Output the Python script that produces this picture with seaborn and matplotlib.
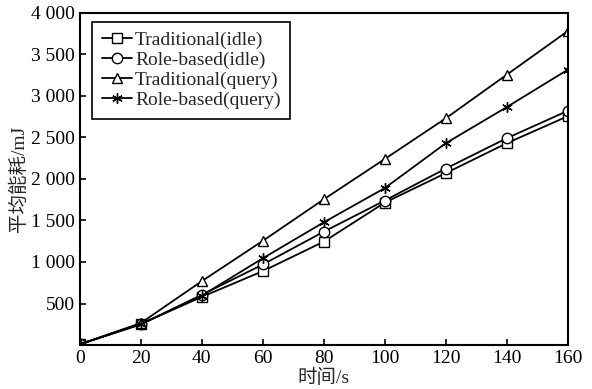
import pandas as pd
import matplotlib
matplotlib.use("Agg")
import matplotlib.pyplot as plt
import seaborn as sns

# 数据
time_s = [0, 20, 40, 60, 80, 100, 120, 140, 160]
trad_idle = [10, 255, 580, 890, 1245, 1715, 2070, 2430, 2755]
role_idle = [10, 250, 605, 970, 1365, 1740, 2125, 2490, 2820]
trad_query = [10, 265, 770, 1255, 1755, 2240, 2730, 3255, 3780]
role_query = [10, 250, 595, 1045, 1478, 1890, 2430, 2865, 3315]

series_names = ["Traditional(idle)", "Role-based(idle)",
                "Traditional(query)", "Role-based(query)"]
y_ticks = [500, 1000, 1500, 2000, 2500, 3000, 3500, 4000]
y_ticklabels = ["500", "1 000", "1 500", "2 000", "2 500", "3 000", "3 500", "4 000"]

df = pd.DataFrame({
    "时间": time_s * 4,
    "能耗": trad_idle + role_idle + trad_query + role_query,
    "series": [n for n in series_names for _ in time_s],
})

sns.set_style("ticks")
plt.rcParams["font.family"] = ["Liberation Serif", "Noto Sans CJK SC"]
plt.rcParams["axes.linewidth"] = 1.5

fig = plt.figure(figsize=(5.92, 3.89), dpi=100)
ax = fig.add_axes([0.135, 0.113, 0.824, 0.854])

markers = {"Traditional(idle)": "s", "Role-based(idle)": "o",
           "Traditional(query)": "^", "Role-based(query)": (6, 2, 0)}
for name in series_names:
    sub = df[df["series"] == name]
    sns.lineplot(data=sub, x="时间", y="能耗", marker=markers[name],
                 color="black", linewidth=1.3, markersize=7.5,
                 markerfacecolor="white", markeredgecolor="black",
                 markeredgewidth=1.0, label=name, ax=ax)

ax.set_xlim(0, 160)
ax.set_ylim(0, 4000)
ax.set_xticks(time_s)
ax.set_yticks(y_ticks)
ax.set_yticklabels(y_ticklabels)
ax.tick_params(direction="in", length=4, width=1.2, labelsize=14, colors="black")
for s in ax.spines.values():
    s.set_visible(True)
    s.set_color("black")

ax.set_xlabel("时间/s", fontsize=14, labelpad=1)
ax.set_ylabel("平均能耗/mJ", fontsize=14, labelpad=2)

leg = ax.legend(loc="upper left", bbox_to_anchor=(0.025, 0.973), borderaxespad=0,
                fontsize=14, frameon=True, fancybox=False, framealpha=1,
                edgecolor="black", handlelength=1.55, handletextpad=0.15,
                borderpad=0.5, labelspacing=0.12)
leg.get_frame().set_linewidth(1.2)

fig.savefig("out.png", dpi=100)
